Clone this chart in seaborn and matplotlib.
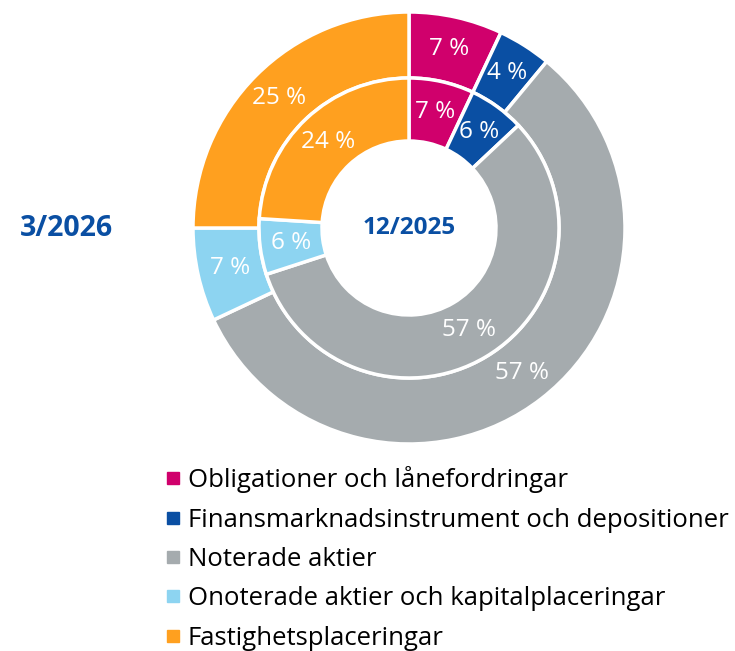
import matplotlib
matplotlib.use("Agg")
import matplotlib.pyplot as plt
from matplotlib.lines import Line2D
import seaborn as sns

# data
categories = [
    "Obligationer och lånefordringar",
    "Finansmarknadsinstrument och depositioner",
    "Noterade aktier",
    "Onoterade aktier och kapitalplaceringar",
    "Fastighetsplaceringar",
]
outer_values = [7, 4, 57, 7, 25]   # 3/2026
inner_values = [7, 6, 57, 6, 24]   # 12/2025
outer_label = "3/2026"
inner_label = "12/2025"
colors = ["#D0006C", "#0A4FA3", "#A5ABAE", "#8DD4F1", "#FFA01F"]

sns.set_theme(style="white")
plt.rcParams["font.family"] = ["Open Sans", "DejaVu Sans"]

W, H = 735, 651
fig = plt.figure(figsize=(W / 100, H / 100), dpi=100)

# pie axes: center (409, 228) px from top-left, outer radius 216 px
cx, cy, R = 409, 228, 216
ax = fig.add_axes([(cx - R) / W, (H - cy - R) / H, 2 * R / W, 2 * R / H])

r_mid = 150 / 216
r_hole = 87 / 216

wedge_kw = dict(edgecolor="white", linewidth=2.5)
txt_kw = dict(color="white", fontsize=17.5)

ax.pie(outer_values, radius=1, colors=colors, startangle=90, counterclock=False,
       wedgeprops=dict(width=1 - r_mid, **wedge_kw),
       autopct=lambda p: f"{p:.0f} %", pctdistance=0.85, textprops=txt_kw)
ax.pie(inner_values, radius=r_mid, colors=colors, startangle=90, counterclock=False,
       wedgeprops=dict(width=r_mid - r_hole, **wedge_kw),
       autopct=lambda p: f"{p:.0f} %", pctdistance=0.79, textprops=txt_kw)
ax.set_xlim(-1, 1)
ax.set_ylim(-1, 1)
ax.set_aspect("equal")
ax.axis("off")

ax.text(0, 0, inner_label, ha="center", va="center", fontsize=17.5,
        fontweight="bold", color="#0A4FA3")
fig.text(66 / W, 1 - 228 / H, outer_label, ha="center", va="center",
         fontsize=20.5, fontweight="bold", color="#0A4FA3")

handles = [Line2D([], [], marker="s", linestyle="none", markersize=9,
                  markerfacecolor=c, markeredgecolor=c) for c in colors]
leg = fig.legend(handles, categories, loc="upper left",
                 bbox_to_anchor=(152 / W, 1 - 456 / H), frameon=False,
                 fontsize=18.5, handletextpad=0.2, labelspacing=0.56,
                 handlelength=0.8, borderaxespad=0)
for t in leg.get_texts():
    t.set_color("black")

fig.savefig("out.png", dpi=100)
